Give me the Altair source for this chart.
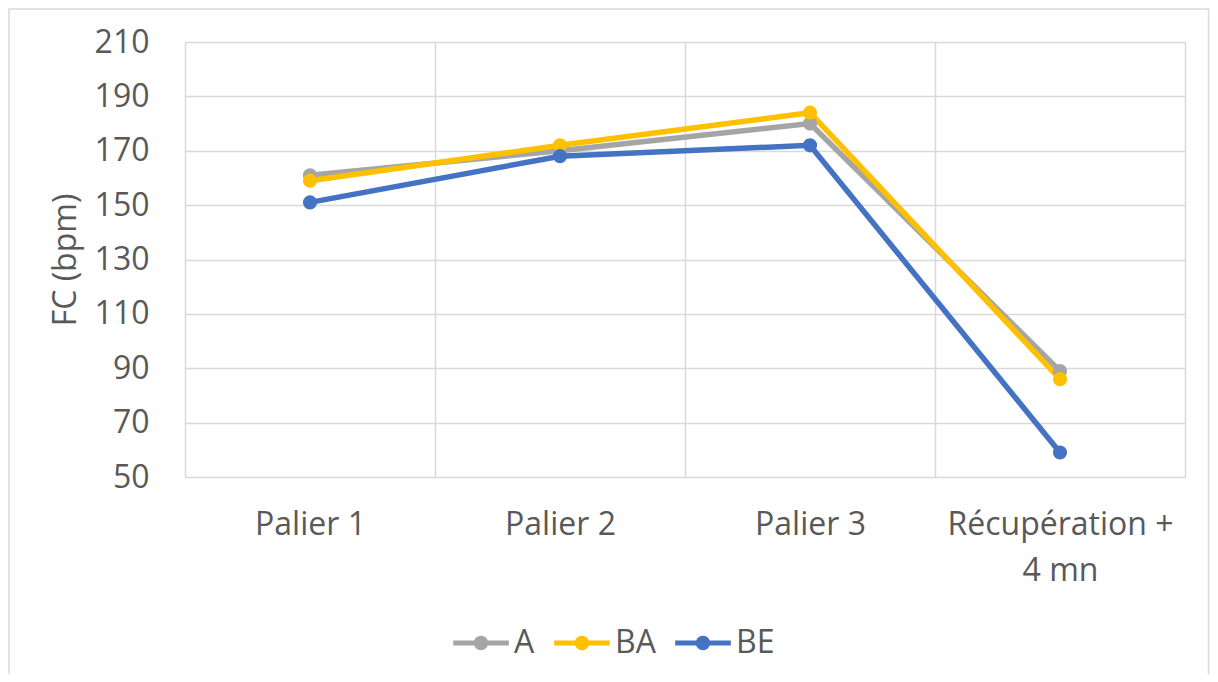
import altair as alt
import pandas as pd

categories = ["Palier 1", "Palier 2", "Palier 3", "Récupération + 4 mn"]
series_names = ["A", "BA", "BE"]
values_A = [161, 170, 180, 89]
values_BA = [159, 172, 184, 86]
values_BE = [151, 168, 172, 59]
colors = ["#A5A5A5", "#FFC000", "#4472C4"]
y_ticks = [50, 70, 90, 110, 130, 150, 170, 190, 210]

rows = []
for name, vals in zip(series_names, [values_A, values_BA, values_BE]):
    for c, v in zip(categories, vals):
        rows.append({"cat": c, "serie": name, "fc": v})
df = pd.DataFrame(rows)

FONT = "Open Sans"
TXT = "#595959"
GRID = "#D9D9D9"
FS = 32

x_enc = alt.X(
    "cat:N",
    sort=categories,
    scale=alt.Scale(type="band", paddingInner=0, paddingOuter=0),
    axis=alt.Axis(
        title=None,
        tickBand="extent",
        grid=True,
        gridColor=GRID,
        gridWidth=1.5,
        domain=False,
        ticks=False,
        labelAngle=0,
        labelFont=FONT,
        labelFontSize=FS,
        labelColor=TXT,
        labelPadding=32,
        labelLineHeight=46,
        labelLimit=0,
        labelExpr="datum.value == 'Récupération + 4 mn' ? ['Récupération +', '4 mn'] : datum.label",
    ),
)
y_enc = alt.Y(
    "fc:Q",
    scale=alt.Scale(domain=[50, 210], nice=False, zero=False),
    axis=alt.Axis(
        values=y_ticks,
        title="FC (bpm)",
        titleFont=FONT,
        titleFontSize=FS,
        titleFontWeight="normal",
        titleColor=TXT,
        titlePadding=12,
        labelFont=FONT,
        labelFontSize=FS,
        labelColor=TXT,
        labelPadding=36,
        grid=True,
        gridColor=GRID,
        gridWidth=1.5,
        domain=False,
        ticks=False,
    ),
)

legend_path = ("M-1,-0.09 L1,-0.09 L1,0.09 L-1,0.09 Z "
               "M0.26,0 A0.26,0.26 0 1,1 -0.26,0 A0.26,0.26 0 1,1 0.26,0 Z")
legend = alt.Legend(
    title=None,
    orient="none",
    direction="horizontal",
    legendX=268,
    legendY=573,
    symbolType=legend_path,
    symbolSize=3100,
    symbolStrokeWidth=0,
    symbolOpacity=1,
    labelFont=FONT,
    labelFontSize=FS,
    labelColor=TXT,
    labelOffset=5,
    columnPadding=19,
)
color_enc = alt.Color("serie:N", scale=alt.Scale(domain=series_names, range=colors), legend=legend)

lines = alt.Chart(df).mark_line(strokeWidth=5.5).encode(
    x=x_enc, y=y_enc, color=color_enc,
)

points = alt.Chart(df).mark_point(filled=True, size=200, opacity=1, shape="circle").encode(
    x=x_enc, y=y_enc, color=color_enc,
)

border = alt.Chart(pd.DataFrame({"b": [0]})).mark_rect(
    fill="transparent", stroke=GRID, strokeWidth=1.5
).encode(
    x=alt.value(-176), x2=alt.value(1023.5), y=alt.value(-33), y2=alt.value(720)
)

chart = alt.layer(border, lines, points).properties(
    width=1000,
    height=435,
    padding={"left": 177, "top": 34, "right": 25, "bottom": 197},
    autosize=alt.AutoSizeParams(type="none"),
).configure_view(stroke=None).configure(background="white")

chart.save("out.html", embed_options={"renderer": "svg", "actions": False})
